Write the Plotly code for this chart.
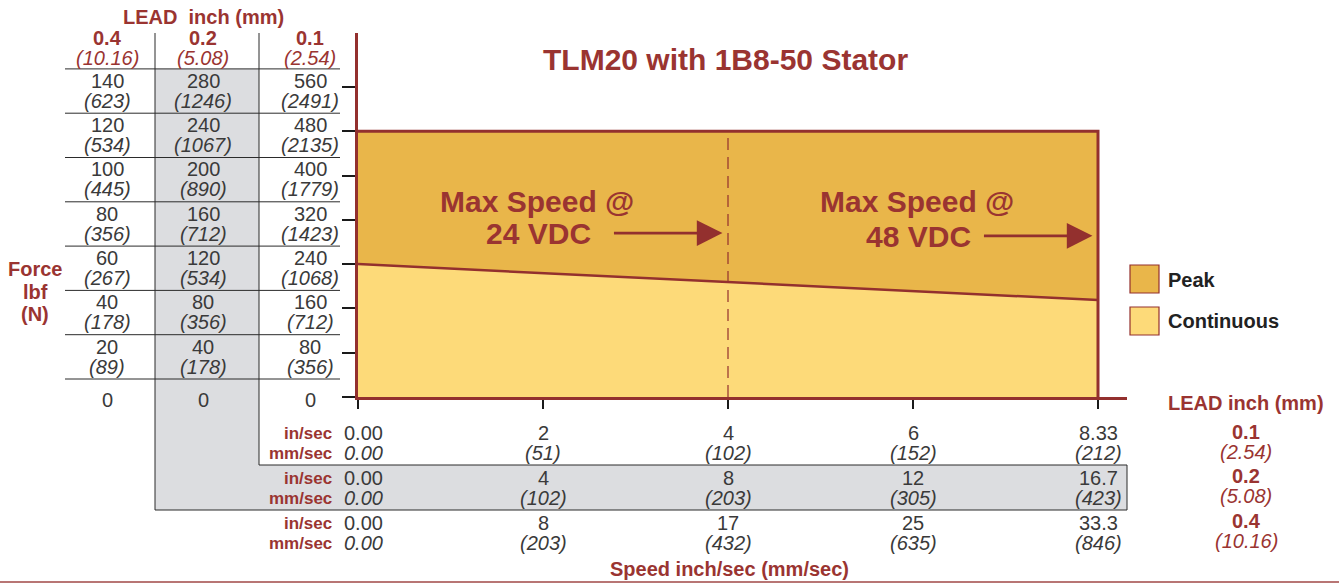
import plotly.graph_objects as go

W, H = 1339, 584

# ---------------- data ----------------
force_lead01 = [0, 80, 160, 240, 320, 400, 480, 560]          # lbf, 0.1 in lead (axis scale)
force_lead01_N = ["", "(356)", "(712)", "(1068)", "(1423)", "(1779)", "(2135)", "(2491)"]
force_lead02 = [0, 40, 80, 120, 160, 200, 240, 280]
force_lead02_N = ["", "(178)", "(356)", "(534)", "(712)", "(890)", "(1067)", "(1246)"]
force_lead04 = [0, 20, 40, 60, 80, 100, 120, 140]
force_lead04_N = ["", "(89)", "(178)", "(267)", "(356)", "(445)", "(534)", "(623)"]

speed_pos = [0, 1, 2, 3, 4]
speed_lead01_in = ["0.00", "2", "4", "6", "8.33"]
speed_lead01_mm = ["0.00", "(51)", "(102)", "(152)", "(212)"]
speed_lead02_in = ["0.00", "4", "8", "12", "16.7"]
speed_lead02_mm = ["0.00", "(102)", "(203)", "(305)", "(423)"]
speed_lead04_in = ["0.00", "8", "17", "25", "33.3"]
speed_lead04_mm = ["0.00", "(203)", "(432)", "(635)", "(846)"]

lead_in = ["0.4", "0.2", "0.1"]
lead_mm = ["(10.16)", "(5.08)", "(2.54)"]

peak_x = [0, 4, 4]
peak_y = [480, 480, 0]
cont_x = [0, 4]
cont_y = [240, 175]
max24_pos = 2

# ---------------- style ----------------
RED = "#9a3431"
LINE_RED = "#93302e"
TXT = "#3a3a3a"
DARK = "#222222"
PEAK = "#e9b64a"
CONT = "#fdda79"
GRAY = "#dcdde0"
FONT = "Liberation Sans, Arial, sans-serif"

def X(px):
    return px / W

def Y(px):
    return 1 - px / H

x0px, x1px, y0px, y1px = 358, 1127, 397, 33
px_per_x = 185.0
px_per_y = 44.3 / 80

fig = go.Figure()
fig.add_trace(go.Scatter(x=cont_x, y=cont_y, mode="lines", fill="tozeroy",
                         fillcolor=CONT, line=dict(color=LINE_RED, width=2.5),
                         hoverinfo="skip", showlegend=False))
fig.add_trace(go.Scatter(x=peak_x, y=peak_y, mode="lines", fill="tonexty",
                         fillcolor=PEAK, line=dict(color=LINE_RED, width=3),
                         hoverinfo="skip", showlegend=False))

shapes = []
ann = []

def txt(x, y, s, size=20, color=TXT, bold=False, italic=False, xref="paper", yref="paper",
        xanchor="center", yanchor="middle", xshift=0, yshift=0):
    if bold:
        s = "<b>" + s + "</b>"
    if italic:
        s = "<i>" + s + "</i>"
    ann.append(dict(x=x, y=y, xref=xref, yref=yref, text=s, showarrow=False,
                    xanchor=xanchor, yanchor=yanchor, xshift=xshift, yshift=yshift,
                    font=dict(family=FONT, size=size, color=color)))

def pline(xa, ya, xb, yb, color="#2b2b2b", width=1, xref="paper", yref="paper", dash=None, layer="above"):
    d = dict(type="line", x0=xa, y0=ya, x1=xb, y1=yb, xref=xref, yref=yref, layer=layer,
             line=dict(color=color, width=width))
    if dash:
        d["line"]["dash"] = dash
    shapes.append(d)

# gray background for 0.2 lead
shapes.append(dict(type="rect", xref="paper", yref="paper", x0=X(155), x1=X(259), y0=Y(510), y1=Y(69),
                   fillcolor=GRAY, line=dict(width=0), layer="below"))
shapes.append(dict(type="rect", xref="paper", yref="paper", x0=X(259), x1=X(1127), y0=Y(510), y1=Y(465),
                   fillcolor=GRAY, line=dict(width=0), layer="below"))

# left table row lines (in axis units)
for v in force_lead01:
    shapes.append(dict(type="line", xref="paper", yref="y", x0=X(65), x1=X(340), y0=v + 32.5, y1=v + 32.5,
                       line=dict(color="#2b2b2b", width=1)))
# table frame lines
pline(X(155), Y(33), X(155), Y(510))
pline(X(259), Y(33), X(259), Y(465))
pline(X(259), Y(465), X(1127), Y(465))
pline(X(155), Y(510), X(1127), Y(510))
pline(X(1127), Y(465), X(1127), Y(510))

# dashed 24 VDC limit
shapes.append(dict(type="line", xref="x", yref="y", x0=max24_pos, x1=max24_pos, y0=0, y1=480,
                   line=dict(color=LINE_RED, width=1.2, dash="12px,7px")))

# bottom rule
pline(0, Y(582), 1, Y(582), color="#b87574", width=2)

# legend
shapes.append(dict(type="rect", xref="paper", yref="paper", x0=X(1130), x1=X(1159), y0=Y(293), y1=Y(265),
                   fillcolor=PEAK, line=dict(color=LINE_RED, width=1.2)))
shapes.append(dict(type="rect", xref="paper", yref="paper", x0=X(1130), x1=X(1159), y0=Y(335), y1=Y(307),
                   fillcolor=CONT, line=dict(color=LINE_RED, width=1.2)))
txt(X(1166), Y(280), "Peak", size=20, color=DARK, bold=True, xanchor="left")
txt(X(1166), Y(321), "Continuous", size=20, color=DARK, bold=True, xanchor="left")

# title
txt(X(725), Y(60), "TLM20 with 1B8-50 Stator", size=30, color=RED, bold=True)

# Max speed notes
txt(X(537), Y(202), "Max Speed @", size=30, color=RED, bold=True)
txt(X(538), Y(234), "24 VDC", size=30, color=RED, bold=True)
txt(X(917), Y(202), "Max Speed @", size=30, color=RED, bold=True)
txt(X(918), Y(236), "48 VDC", size=30, color=RED, bold=True)
for (hx, hy, tail) in [(max24_pos - 0.03, 296, -110), (speed_pos[-1] - 0.03, 291, -110)]:
    ann.append(dict(x=hx, y=hy, xref="x", yref="y", ax=tail, ay=0, text="", showarrow=True,
                    arrowhead=2, arrowsize=1.9, arrowwidth=2.7, arrowcolor=LINE_RED, standoff=0))

# left table header
txt(X(203), Y(17), "LEAD  inch (mm)", size=20, color=RED, bold=True)
col_x = [107, 203, 310]
for cx, li, lm in zip(col_x, lead_in, lead_mm):
    txt(X(cx), Y(38), li, size=20, color=RED, bold=True)
    txt(X(cx), Y(58), lm, size=20, color=RED, italic=True)

# left table values
cols = [(force_lead04, force_lead04_N), (force_lead02, force_lead02_N), (force_lead01, force_lead01_N)]
for cx, (vals, nvals) in zip(col_x, cols):
    for v_axis, v, n in zip(force_lead01, vals, nvals):
        if v == 0:
            txt(X(cx), v_axis, str(v), size=20, yref="y", yshift=-3)
        else:
            txt(X(cx), v_axis, str(v), size=20, yref="y", yshift=6)
            txt(X(cx), v_axis, n, size=20, yref="y", yshift=-14, italic=True)

# Force label
for s, ypx in zip(["Force", "lbf", "(N)"], [269, 292, 314]):
    txt(X(35), Y(ypx), s, size=20, color=RED, bold=True)

# speed rows
rows = [(speed_lead01_in, speed_lead01_mm, 433), (speed_lead02_in, speed_lead02_mm, 478),
        (speed_lead04_in, speed_lead04_mm, 523)]
for s_in, s_mm, ypx in rows:
    txt(X(334), Y(ypx), "in/sec", size=17, color=RED, bold=True, xanchor="right")
    txt(X(334), Y(ypx + 20), "mm/sec", size=17, color=RED, bold=True, xanchor="right")
    for p, a, b in zip(speed_pos, s_in, s_mm):
        sh = 5 if p == 0 else 0
        txt(p, Y(ypx), a, size=20, xref="x", xshift=sh)
        txt(p, Y(ypx + 20), b, size=20, xref="x", xshift=sh, italic=True)

txt(X(729), Y(569), "Speed inch/sec (mm/sec)", size=20, color=RED, bold=True)

# right lead labels
txt(X(1246), Y(403), "LEAD inch (mm)", size=20, color=RED, bold=True)
for li, lm, ypx in zip(lead_in[::-1], lead_mm[::-1], [432, 476, 521]):
    txt(X(1246), Y(ypx), li, size=20, color=RED, bold=True)
    txt(X(1246), Y(ypx + 20), lm, size=20, color=RED, italic=True)

fig.update_layout(
    width=W, height=H,
    margin=dict(l=0, r=0, t=0, b=0),
    paper_bgcolor="white", plot_bgcolor="white",
    showlegend=False,
    xaxis=dict(domain=[X(x0px), X(x1px)], range=[0, (x1px - x0px) / px_per_x],
               showgrid=False, zeroline=False, showline=True, linecolor=LINE_RED, linewidth=3,
               ticks="outside", tickvals=speed_pos, ticklen=9, tickwidth=2, tickcolor="#1a1a1a",
               showticklabels=False, fixedrange=True),
    yaxis=dict(domain=[Y(y0px), Y(y1px)], range=[0, (y0px - y1px) / px_per_y],
               showgrid=False, zeroline=False, showline=True, linecolor=LINE_RED, linewidth=3,
               ticks="outside", tickvals=force_lead01, ticklen=13, tickwidth=2, tickcolor="#1a1a1a",
               showticklabels=False, fixedrange=True),
    shapes=shapes,
    annotations=ann,
)

fig.write_html("out.html", config={"displayModeBar": False},
               post_script="document.body.style.margin='0';document.body.style.overflow='hidden';")
